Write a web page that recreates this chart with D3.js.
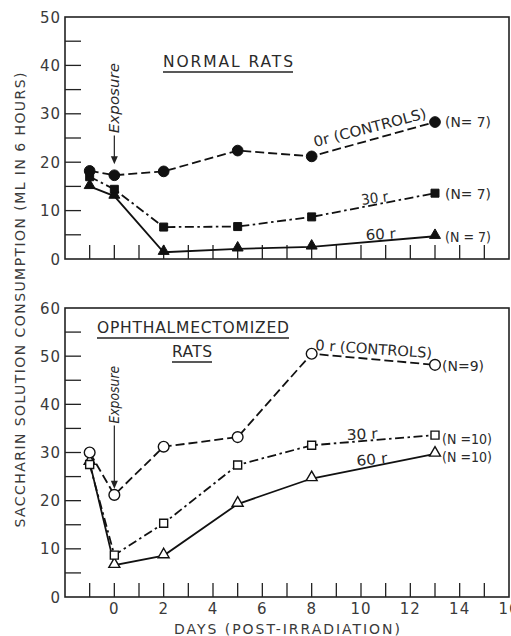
<!DOCTYPE html>
<head>
  <meta charset="utf-8">
  <script src="https://d3js.org/d3.v7.min.js"></script>
  <style>
    body { margin: 0; background: #fff; }
    svg { font-family: "DejaVu Sans", Arial, sans-serif; fill: #2a2a2a; }
    .frame { fill: none; stroke: #222; stroke-width: 1.6px; }
    .tick { stroke: #222; stroke-width: 1.3px; }
    .ticklabel { font-size: 15px; letter-spacing: 1px; fill: #3a3a3a; }
    .lbl { font-size: 14.5px; fill: #2a2a2a; }
    .series { fill: none; stroke: #111; stroke-width: 1.8px; }
  </style>
</head>
<body>
  <div id="vis"></div>
  <script>
    // days post irradiation
    var days = [-1, 0, 2, 5, 8, 13];

    // normal rats (ml in 6 hours)
    var normal0 = [18.2, 17.3, 18.1, 22.4, 21.2, 28.3];
    var normal30 = [17.0, 14.4, 6.6, 6.7, 8.7, 13.6];
    var normal60 = [15.0, 13.0, 1.4, 2.1, 2.5, 4.7];

    // ophthalmectomized rats
    var oph0 = [30.0, 21.2, 31.2, 33.2, 50.5, 48.2];
    var oph30 = [27.5, 8.7, 15.3, 27.4, 31.5, 33.6];
    var oph60 = [28.0, 6.6, 8.6, 19.3, 24.6, 29.7];

    var xTickLabels = [0, 2, 4, 6, 8, 10, 12, 14, 16];
    var topTickLabels = [0, 10, 20, 30, 40, 50];
    var botTickLabels = [0, 10, 20, 30, 40, 50, 60];

    var width = 511, height = 636;

    var svg = d3.select("#vis").append("svg")
      .attr("width", width)
      .attr("height", height);

    var x = d3.scaleLinear().domain([-2, 16]).range([65, 509]);
    var yTop = d3.scaleLinear().domain([0, 50]).range([259, 17]);
    var yBot = d3.scaleLinear().domain([0, 60]).range([597, 308]);

    var dashes = { c0: "9,4", c30: "9,3.5,2.5,3.5", c60: null };

    function panel(y, ymax) {
      var g = svg.append("g");
      g.append("rect").attr("class", "frame")
        .attr("x", x(-2)).attr("y", y(ymax))
        .attr("width", x(16) - x(-2)).attr("height", y(0) - y(ymax));

      // inner ticks, left side every 5
      g.selectAll(".ytick").data(d3.range(5, ymax, 5)).enter().append("line")
        .attr("class", "tick")
        .attr("x1", x(-2)).attr("x2", x(-2) + 16)
        .attr("y1", d => y(d)).attr("y2", d => y(d));

      // inner ticks, bottom each day
      g.selectAll(".xtick").data(d3.range(-1, 16)).enter().append("line")
        .attr("class", "tick")
        .attr("x1", d => x(d)).attr("x2", d => x(d))
        .attr("y1", y(0)).attr("y2", y(0) - 14);
      return g;
    }

    function tickLabels(g, y, vals) {
      g.selectAll(".tl").data(vals).enter().append("text")
        .attr("class", "ticklabel")
        .attr("text-anchor", "end")
        .attr("x", 61)
        .attr("y", d => y(d) + 5.5)
        .text(d => d);
    }

    function series(g, y, vals, dash, shape, filled) {
      var pts = days.map((d, i) => [x(d), y(vals[i])]);
      g.append("path").attr("class", "series")
        .attr("d", d3.line()(pts))
        .attr("stroke-dasharray", dash);

      var sym = d3.symbol()
        .type(shape == "circle" ? d3.symbolCircle : shape == "square" ? d3.symbolSquare : d3.symbolTriangle)
        .size(shape == "circle" ? 90 : shape == "square" ? 64 : 52);

      g.selectAll(".pt").data(pts).enter().append("path")
        .attr("d", sym)
        .attr("transform", d => "translate(" + d[0] + "," + (d[1] + (shape == "triangle" ? -1 : 0)) + ")")
        .attr("fill", filled ? "#111" : "#fff")
        .attr("stroke", "#111")
        .attr("stroke-width", filled ? 1 : 1.4);
    }

    function exposure(g, y, t0, t1, a0, a1) {
      g.append("text")
        .attr("transform", "translate(" + (x(0) + 5) + "," + y(t0) + ") rotate(-90)")
        .attr("font-style", "italic")
        .attr("font-size", 14.5)
        .attr("textLength", y(t0) - y(t1))
        .attr("lengthAdjust", "spacingAndGlyphs")
        .text("Exposure");
      g.append("line")
        .attr("x1", x(0)).attr("x2", x(0))
        .attr("y1", y(a0)).attr("y2", y(a1) - 5)
        .attr("stroke", "#222").attr("stroke-width", 1.2);
      g.append("path")
        .attr("d", "M" + (x(0) - 3.5) + "," + (y(a1) - 8) + "L" + x(0) + "," + y(a1) + "L" + (x(0) + 3.5) + "," + (y(a1) - 8) + "Z")
        .attr("fill", "#222");
    }

    function label(g, txt, px, py, rot, len) {
      var t = g.append("text").attr("class", "lbl")
        .attr("transform", "translate(" + px + "," + py + ") rotate(" + rot + ")")
        .text(txt);
      if (len) t.attr("textLength", len).attr("lengthAdjust", "spacingAndGlyphs");
    }

    function title(g, txt, cx, by, len) {
      g.append("text")
        .attr("x", cx).attr("y", by)
        .attr("text-anchor", "middle")
        .attr("font-size", 15.5)
        .attr("textLength", len)
        .attr("lengthAdjust", "spacing")
        .text(txt);
      g.append("line")
        .attr("x1", cx - len / 2).attr("x2", cx + len / 2)
        .attr("y1", by + 5).attr("y2", by + 5)
        .attr("stroke", "#222").attr("stroke-width", 1.5);
    }

    ////////// top: normal rats //////////
    var gTop = panel(yTop, 50);
    tickLabels(gTop, yTop, topTickLabels);
    series(gTop, yTop, normal60, dashes.c60, "triangle", true);
    series(gTop, yTop, normal30, dashes.c30, "square", true);
    series(gTop, yTop, normal0, dashes.c0, "circle", true);
    exposure(gTop, yTop, 26, 40.5, 25.5, 19.6);
    title(gTop, "NORMAL RATS", 228, 67, 130);

    label(gTop, "0r (CONTROLS)", 315, 147, -14.5, 116);
    label(gTop, "30 r", 362, 205, -8, 27);
    label(gTop, "60 r", 366, 240, -3, 30);
    label(gTop, "(N= 7)", 445, 127, 0, 46);
    label(gTop, "(N= 7)", 445, 199, 0, 46);
    label(gTop, "(N = 7)", 445, 242, 0, 46);

    ////////// bottom: ophthalmectomized rats //////////
    var gBot = panel(yBot, 60);
    tickLabels(gBot, yBot, botTickLabels);
    series(gBot, yBot, oph60, dashes.c60, "triangle", false);
    series(gBot, yBot, oph30, dashes.c30, "square", false);
    series(gBot, yBot, oph0, dashes.c0, "circle", false);
    exposure(gBot, yBot, 36, 48, 35.6, 22.5);
    title(gBot, "OPHTHALMECTOMIZED", 193, 333, 192);
    title(gBot, "RATS", 192, 357, 40);

    label(gBot, "0 r (CONTROLS)", 315, 350, 4, 117);
    label(gBot, "30 r", 347, 440, -3, 31);
    label(gBot, "60 r", 357, 466, -6, 31);
    label(gBot, "(N=9)", 442, 371, 0, 42);
    label(gBot, "(N =10)", 442, 444, 0, 50);
    label(gBot, "(N =10)", 442, 462, 0, 50);

    // x tick labels
    gBot.selectAll(".xl").data(xTickLabels).enter().append("text")
      .attr("class", "ticklabel")
      .attr("text-anchor", "middle")
      .attr("x", d => x(d))
      .attr("y", 614)
      .text(d => d);

    // axis titles
    svg.append("text")
      .attr("x", 287).attr("y", 634)
      .attr("text-anchor", "middle")
      .attr("font-size", 14)
      .attr("textLength", 226)
      .attr("lengthAdjust", "spacing")
      .attr("fill", "#3a3a3a")
      .text("DAYS (POST-IRRADIATION)");

    svg.append("text")
      .attr("transform", "translate(25,300) rotate(-90)")
      .attr("text-anchor", "middle")
      .attr("font-size", 14)
      .attr("textLength", 455)
      .attr("lengthAdjust", "spacing")
      .attr("fill", "#3a3a3a")
      .text("SACCHARIN SOLUTION CONSUMPTION (ML IN 6 HOURS)");
  </script>
</body>
